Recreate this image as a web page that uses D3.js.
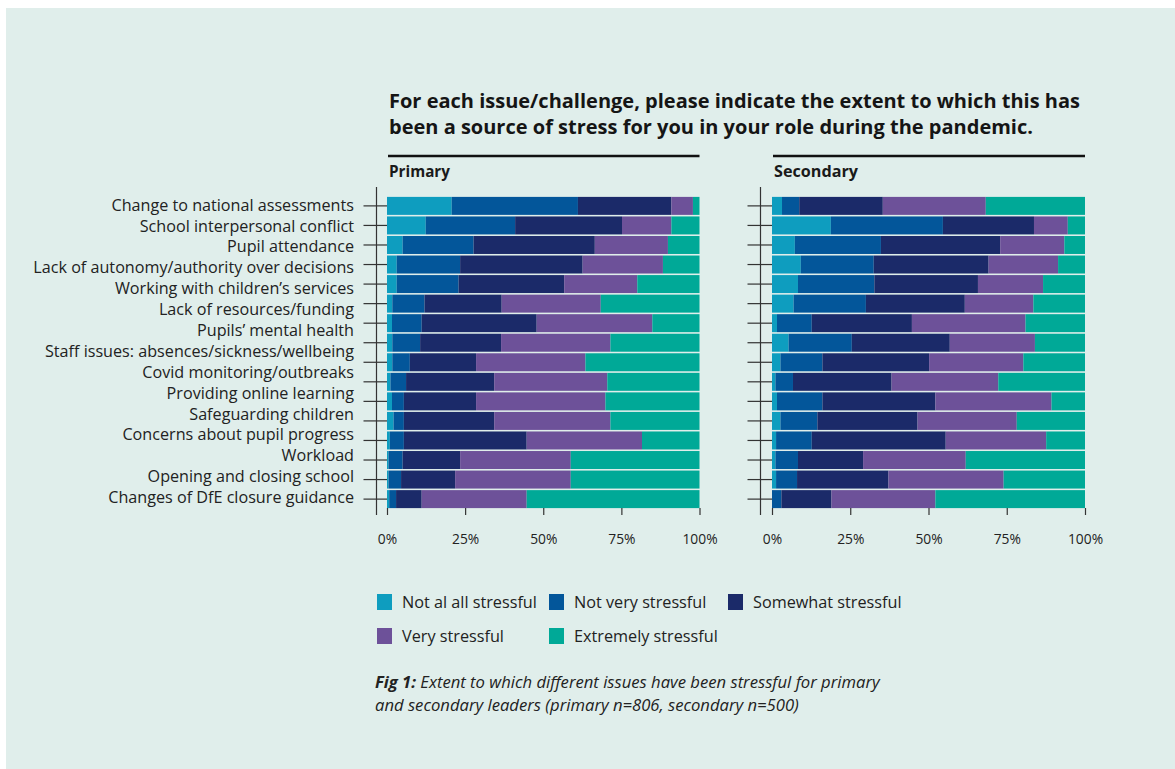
<!DOCTYPE html>
<html>
<head>
<meta charset="utf-8">
<script src="https://cdn.jsdelivr.net/npm/d3@7"></script>
<style>
    body { margin: 0; background: #ffffff; }
    svg { display: block; font-family: "Open Sans", "Noto Sans", sans-serif; }
</style>
</head>
<body>
<svg id="chart" width="1175" height="769"></svg>
<script>
// category labels (15 labels are printed, the source chart draws 16 bars)
let issues = ["Change to national assessments", "School interpersonal conflict", "Pupil attendance",
    "Lack of autonomy/authority over decisions", "Working with children\u2019s services",
    "Lack of resources/funding", "Pupils\u2019 mental health", "Staff issues: absences/sickness/wellbeing",
    "Covid monitoring/outbreaks", "Providing online learning", "Safeguarding children",
    "Concerns about pupil progress", "Workload", "Opening and closing school",
    "Changes of DfE closure guidance"];

let levels = ["Not al all stressful", "Not very stressful", "Somewhat stressful", "Very stressful", "Extremely stressful"];
let levelColors = ["#0e9dbf", "#03569a", "#1b2a69", "#6d5199", "#00a997"];

let xTicks = [0, 25, 50, 75, 100];

// primary leaders, % per bar (top to bottom)
let primaryNotAtAll   = [20.7, 12.4, 5.0, 3.1, 3.1, 1.7, 1.6, 1.7, 1.7, 1.1, 1.6, 2.1, 0.9, 0.5, 0.5, 0.7];
let primaryNotVery    = [40.4, 28.6, 22.7, 20.3, 19.8, 10.3, 9.5, 8.9, 5.6, 5.0, 3.8, 3.3, 4.5, 4.5, 4.0, 2.2];
let primarySomewhat   = [29.9, 34.2, 38.8, 39.2, 33.8, 24.7, 36.8, 25.9, 21.2, 28.2, 23.1, 28.9, 39.3, 18.4, 17.3, 8.2];
let primaryVery       = [6.9, 15.8, 23.4, 25.7, 23.4, 31.7, 37.0, 35.0, 35.0, 36.2, 41.4, 37.2, 36.9, 35.4, 37.0, 33.6];
let primaryExtremely  = [2.1, 9.0, 10.1, 11.7, 19.9, 31.6, 15.1, 28.5, 36.5, 29.5, 30.1, 28.5, 18.4, 41.2, 41.2, 55.3];

// secondary leaders
let secondaryNotAtAll  = [3.2, 18.8, 7.3, 9.2, 8.3, 6.9, 1.6, 5.3, 2.7, 1.1, 1.6, 2.7, 1.3, 1.1, 1.3, 0.0];
let secondaryNotVery   = [5.5, 35.8, 27.5, 23.3, 24.4, 23.1, 11.1, 20.2, 13.4, 5.6, 14.5, 11.8, 11.4, 7.2, 6.7, 3.0];
let secondarySomewhat  = [26.7, 29.1, 38.1, 36.7, 33.1, 31.6, 32.0, 31.3, 34.1, 31.5, 36.1, 32.0, 42.8, 20.8, 29.2, 16.0];
let secondaryVery      = [32.9, 10.8, 20.5, 22.2, 20.8, 21.9, 36.3, 27.2, 30.1, 34.1, 37.1, 31.7, 32.1, 32.8, 36.8, 33.2];
let secondaryExtremely = [31.7, 5.5, 6.6, 8.6, 13.4, 16.5, 19.0, 16.0, 19.7, 27.7, 10.7, 21.8, 12.4, 38.1, 26.0, 47.8];

let svg = d3.select("#chart");

// scale a text's font size so that the measured node gets the wanted width
function fitFont(target, measured, width) {
    let fs = +target.attr("font-size");
    let w = measured.node().getComputedTextLength();
    target.attr("font-size", (fs * width / w).toFixed(2));
}

// mint panel
svg.append("rect")
    .attr("x", 6).attr("y", 8)
    .attr("width", 1169).attr("height", 761)
    .attr("fill", "#e0eeeb");

// build rows for d3.stack
function toRows(series) {
    return series[0].map((v, i) => {
        let row = {id: i};
        levels.forEach((l, j) => row[l] = series[j][i]);
        return row;
    });
}

let primaryRows = toRows([primaryNotAtAll, primaryNotVery, primarySomewhat, primaryVery, primaryExtremely]);
let secondaryRows = toRows([secondaryNotAtAll, secondaryNotVery, secondarySomewhat, secondaryVery, secondaryExtremely]);

let stack = d3.stack().keys(levels).offset(d3.stackOffsetExpand);

let y = d3.scaleBand()
    .domain(primaryRows.map(d => d.id))
    .range([196.5, 508.5])
    .paddingInner(0.08)
    .paddingOuter(0.02);

let color = d3.scaleOrdinal().domain(levels).range(levelColors);

function drawPanel(rows, left, right, axisX, name, nameWidth) {
    let x = d3.scaleLinear().domain([0, 1]).range([left, right]);
    let g = svg.append("g");

    // heading rule and name
    g.append("line")
        .attr("x1", left + 1).attr("x2", right)
        .attr("y1", 156).attr("y2", 156)
        .attr("stroke", "#111").attr("stroke-width", 2.5);
    let head = g.append("text")
        .attr("x", left + 2).attr("y", 177)
        .attr("font-size", 14).attr("font-weight", 700)
        .attr("fill", "#1a1a1a")
        .text(name);
    fitFont(head, head, nameWidth);

    // stacked bars
    g.selectAll(".layer")
        .data(stack(rows))
        .enter().append("g")
        .attr("fill", d => color(d.key))
        .selectAll("rect")
        .data(d => d)
        .enter().append("rect")
        .attr("x", d => x(d[0]))
        .attr("width", d => x(d[1]) - x(d[0]))
        .attr("y", d => y(d.data.id))
        .attr("height", y.bandwidth());

    // vertical axis with crossing ticks
    g.append("line")
        .attr("x1", axisX).attr("x2", axisX)
        .attr("y1", 187).attr("y2", 515)
        .attr("stroke", "#333").attr("stroke-width", 1.2);
    g.selectAll(".rowTick")
        .data(rows)
        .enter().append("line")
        .attr("x1", axisX - 13).attr("x2", left)
        .attr("y1", d => y(d.id) + y.bandwidth() / 2)
        .attr("y2", d => y(d.id) + y.bandwidth() / 2)
        .attr("stroke", "#333").attr("stroke-width", 1.2);

    // bottom percentage axis (ticks only)
    let xAxis = g.append("g")
        .attr("transform", "translate(0,508)")
        .call(d3.axisBottom(x)
            .tickValues(xTicks.map(t => t / 100))
            .tickSize(7)
            .tickPadding(19)
            .tickFormat(d => Math.round(d * 100) + "%"));
    xAxis.select(".domain").remove();
    xAxis.selectAll("line").attr("stroke", "#333").attr("stroke-width", 1.2);
    xAxis.selectAll("text")
        .attr("font-family", "'Open Sans', sans-serif")
        .attr("font-size", 13.8)
        .attr("fill", "#222");
}

drawPanel(primaryRows, 387, 699.5, 376.5, "Primary", 61);
drawPanel(secondaryRows, 772, 1085, 760.5, "Secondary", 84);

// category labels
let labelY = d3.scalePoint()
    .domain(issues)
    .range([205, 497.5]);

let labels = svg.append("g")
    .attr("font-size", 14.5)
    .attr("fill", "#222");
labels.selectAll("text")
    .data(issues)
    .enter().append("text")
    .attr("x", 354)
    .attr("y", d => labelY(d))
    .attr("dy", "0.35em")
    .attr("text-anchor", "end")
    .text(d => d);
fitFont(labels, labels.selectAll("text").filter((d, i) => i === 3), 321);

// title
let title = svg.append("text")
    .attr("x", 389)
    .attr("font-size", 18)
    .attr("font-weight", 700)
    .attr("fill", "#151515");
let titleLine = title.append("tspan").attr("x", 389).attr("y", 108)
    .text("For each issue/challenge, please indicate the extent to which this has");
title.append("tspan").attr("x", 389).attr("y", 134)
    .text("been a source of stress for you in your role during the pandemic.");
fitFont(title, titleLine, 691);

// legend
let legendPos = [[377, 594], [549, 594], [728, 594], [377, 628], [549, 628]];
let legendG = svg.append("g")
    .attr("font-size", 14.5)
    .attr("fill", "#222");
let legend = legendG.selectAll("g")
    .data(levels)
    .enter().append("g")
    .attr("transform", (d, i) => "translate(" + legendPos[i][0] + "," + legendPos[i][1] + ")");
legend.append("rect")
    .attr("width", 15).attr("height", 16)
    .attr("fill", d => color(d));
legend.append("text")
    .attr("x", 25).attr("y", 8)
    .attr("dy", "0.35em")
    .text(d => d);
fitFont(legendG, legend.select("text").filter((d, i) => i === 0), 135);

// caption, two separate lines
let captionG = svg.append("g")
    .attr("font-size", 13.5)
    .attr("font-style", "italic")
    .attr("fill", "#222");
let line1 = captionG.append("text").attr("x", 375).attr("y", 688);
line1.append("tspan").attr("font-weight", 700).text("Fig 1:");
line1.append("tspan").text(" Extent to which different issues have been stressful for primary");
captionG.append("text").attr("x", 375).attr("y", 711)
    .text("and secondary leaders (primary n=806, secondary n=500)");
fitFont(captionG, line1, 505);
</script>
</body>
</html>
